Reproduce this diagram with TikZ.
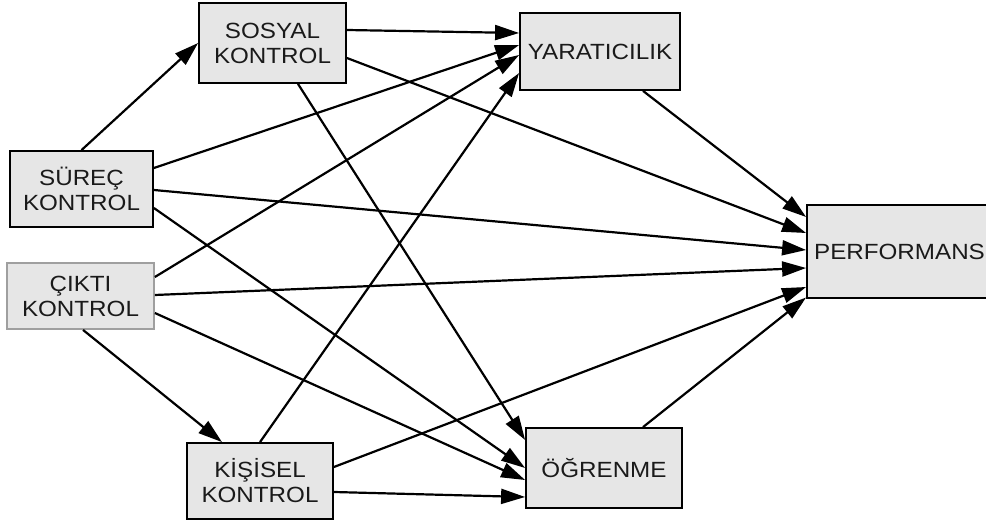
\documentclass[tikz,border=0pt]{standalone}
\usepackage{fontspec}
\newfontfamily\lbl{Liberation Sans}[FakeStretch=1.1]
\usetikzlibrary{arrows.meta,calc}
\definecolor{boxfill}{HTML}{E6E6E6}
\definecolor{txt}{HTML}{1A1A1A}
\begin{document}
\begin{tikzpicture}[x=1pt,y=-1pt,
  box/.style={draw=black,line width=1.8pt,fill=boxfill,inner sep=0pt,align=center,
    text=txt,font=\lbl\fontsize{22}{25}\selectfont},
  lightbox/.style={box,draw=gray!75},
  arr/.style={line width=2.2pt,-{Triangle[length=24pt,width=15pt]}}]
\path[use as bounding box,clip] (0,0) rectangle (986,521);
\node[box,minimum width=147pt,minimum height=80pt] (soc) at (272.5,43) {SOSYAL\\KONTROL};
\node[box,minimum width=160pt,minimum height=77pt] (yar) at (600,51.5) {YARATICILIK};
\node[box,minimum width=143pt,minimum height=76pt] (sur) at (81.5,189) {SÜREÇ\\KONTROL};
\node[lightbox,minimum width=147pt,minimum height=66pt] (cik) at (80.5,296) {ÇIKTI\\KONTROL};
\node[box,minimum width=185pt,minimum height=93pt] (per) at (899.5,251.5) {PERFORMANS};
\node[box,minimum width=146pt,minimum height=76pt] (kis) at (260,481) {KİŞİSEL\\KONTROL};
\node[box,minimum width=156pt,minimum height=80pt] (ogr) at (604,468) {ÖĞRENME};
% connectors
\draw[arr] (sur.north) -- (soc.west);
\draw[arr] ($(soc.east)+(0,-13)$) -- ($(yar.west)+(0,-18.5)$);
\draw[arr] ($(soc.east)+(0,15)$) -- ($(per.west)+(0,-18.5)$);
\draw[arr] ($(soc.south)+(25.5,0)$) -- ($(ogr.west)+(0,-28)$);
\draw[arr] ($(sur.east)+(0,-21)$) -- ($(yar.west)+(0,-6.5)$);
\draw[arr] ($(sur.east)+(0,1)$) -- ($(per.west)+(0,-1.5)$);
\draw[arr] ($(sur.east)+(0,19)$) -- (ogr.west);
\draw[arr] ($(cik.east)+(0,-19)$) -- ($(yar.west)+(0,3.5)$);
\draw[arr] ($(cik.east)+(0,-1)$) -- ($(per.west)+(0,16.5)$);
\draw[arr] ($(cik.east)+(0,17)$) -- ($(ogr.west)+(0,12)$);
\draw[arr] ($(cik.south)+(2.5,0)$) -- ($(kis.north)+(-38,0)$);
\draw[arr] (kis.north) -- ($(yar.west)+(0,21.5)$);
\draw[arr] ($(kis.east)+(0,-14)$) -- ($(per.west)+(0,35.5)$);
\draw[arr] ($(kis.east)+(0,11)$) -- ($(ogr.west)+(0,29)$);
\draw[arr] ($(yar.south)+(43,0)$) -- ($(per.west)+(0,-34.5)$);
\draw[arr] ($(ogr.north)+(39,0)$) -- ($(per.west)+(0,46)$);
\end{tikzpicture}
\end{document}
